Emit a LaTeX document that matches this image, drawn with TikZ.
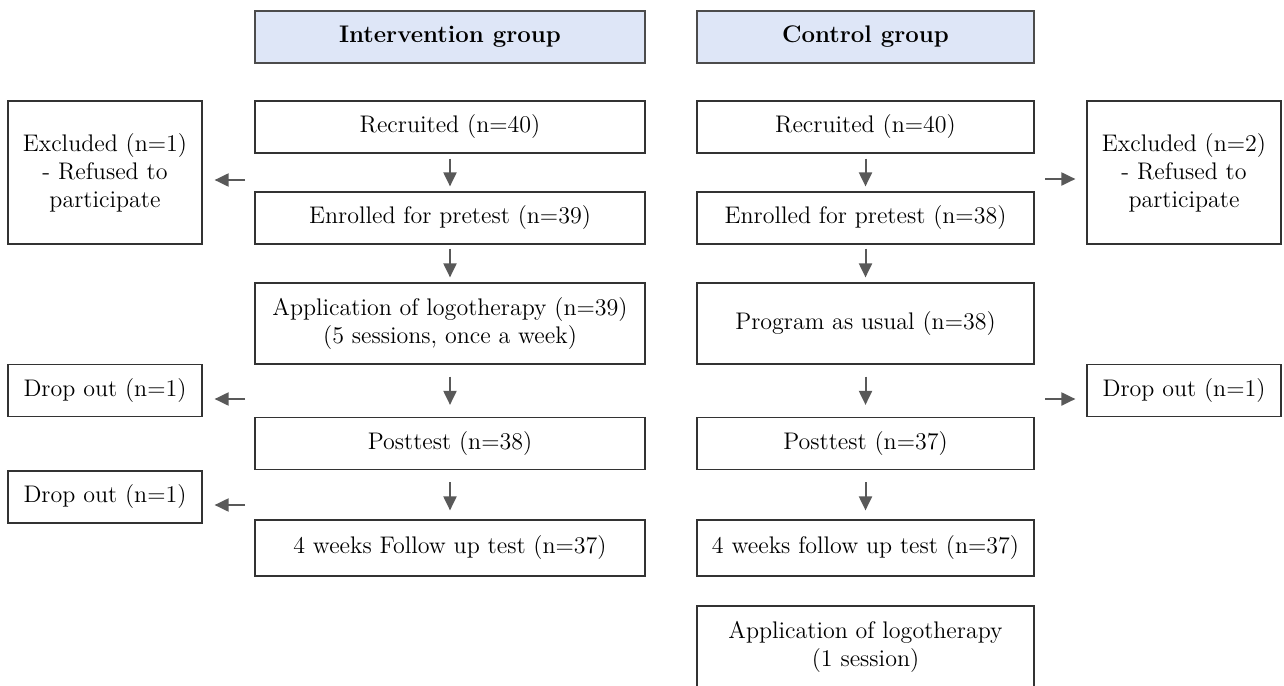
\documentclass[tikz,border=0pt]{standalone}
\usepackage{tikz}
\usepackage{xcolor}
\usetikzlibrary{arrows.meta}

\definecolor{hdrblue}{HTML}{DEE6F7}
\definecolor{arrgray}{HTML}{595959}
\definecolor{boxline}{HTML}{333333}

\begin{document}
\begin{tikzpicture}[x=0.5pt, y=-0.5pt,
    every node/.style={font=\fontsize{12}{14}\selectfont, align=center, inner sep=0pt},
    box/.style={draw=boxline, line width=0.6pt, minimum width=195pt, minimum height=26pt},
    ctlbox/.style={box, minimum width=168.5pt},
    sidebox/.style={box, minimum width=97pt},
    hdr/.style={box, fill=hdrblue, draw=black!70, font=\fontsize{12}{14}\selectfont\bfseries},
    arr/.style={draw=arrgray, line width=1pt, -{Triangle[length=7pt,width=6.5pt]}}]
  % Canvas
  \useasboundingbox (0,0) rectangle (1284,685);
  \clip (0,0) rectangle (1284,685);

  % Group headers
  \node[hdr] (hdrI) at (450,37) {Intervention group};
  \node[hdr, minimum width=168.5pt] (hdrC) at (865.5,37) {Control group};

  % Intervention column
  \node[box] (recI) at (450,127) {Recruited (n=40)};
  \node[box] (enrI) at (450,218) {Enrolled for pretest (n=39)};
  \node[box, minimum height=40.5pt] (appI) at (450,323.5) {Application of logotherapy (n=39)\\(5 sessions, once a week)};
  \node[box] (postI) at (450,443.5) {Posttest (n=38)};
  \node[box, minimum height=28pt] (fupI) at (450,548) {4 weeks Follow up test (n=37)};

  % Control column
  \node[ctlbox] (recC) at (865.5,127) {Recruited (n=40)};
  \node[ctlbox] (enrC) at (865.5,218) {Enrolled for pretest (n=38)};
  \node[ctlbox, minimum height=40.5pt] (prgC) at (865.5,323.5) {Program as usual (n=38)};
  \node[ctlbox] (postC) at (865.5,443.5) {Posttest (n=37)};
  \node[ctlbox, minimum height=28pt] (fupC) at (865.5,548) {4 weeks follow up test (n=37)};
  \node[ctlbox, minimum height=40.5pt] (appC) at (865.5,646.5) {Application of logotherapy\\(1 session)};

  % Losses
  \node[sidebox, minimum height=71.5pt] (exclI) at (105,172.5) {Excluded (n=1)\\ - Refused to\\ participate};
  \node[sidebox] (dropI1) at (105,390.5) {Drop out (n=1)};
  \node[sidebox] (dropI2) at (105,497) {Drop out (n=1)};
  \node[sidebox, minimum height=71.5pt] (exclC) at (1184,172.5) {Excluded (n=2)\\ - Refused to\\ participate};
  \node[sidebox] (dropC) at (1184,390.5) {Drop out (n=1)};

  % Flow arrows
  \draw[arr, shorten <=2.5pt, shorten >=2.5pt] (recI) -- (enrI);
  \draw[arr, shorten <=2pt, shorten >=2.5pt] (enrI) -- (appI);
  \draw[arr, shorten <=6pt, shorten >=6pt] (appI) -- (postI);
  \draw[arr, shorten <=6pt, shorten >=4.5pt] (postI) -- (fupI);
  \draw[arr, shorten <=2.5pt, shorten >=2.5pt] (recC) -- (enrC);
  \draw[arr, shorten <=2pt, shorten >=2.5pt] (enrC) -- (prgC);
  \draw[arr, shorten <=6pt, shorten >=6pt] (prgC) -- (postC);
  \draw[arr, shorten <=6pt, shorten >=4.5pt] (postC) -- (fupC);

  % Side arrows
  \coordinate (outI1) at (245,180);
  \coordinate (outI2) at (245,399);
  \coordinate (outI3) at (245,505);
  \coordinate (outC1) at (1045,179);
  \coordinate (outC2) at (1045,399);
  \draw[arr, shorten >=6pt] (outI1) -- (outI1 -| exclI.east);
  \draw[arr, shorten >=6pt] (outI2) -- (outI2 -| dropI1.east);
  \draw[arr, shorten >=6pt] (outI3) -- (outI3 -| dropI2.east);
  \draw[arr, shorten >=5.5pt] (outC1) -- (outC1 -| exclC.west);
  \draw[arr, shorten >=5.5pt] (outC2) -- (outC2 -| dropC.west);
\end{tikzpicture}
\end{document}
